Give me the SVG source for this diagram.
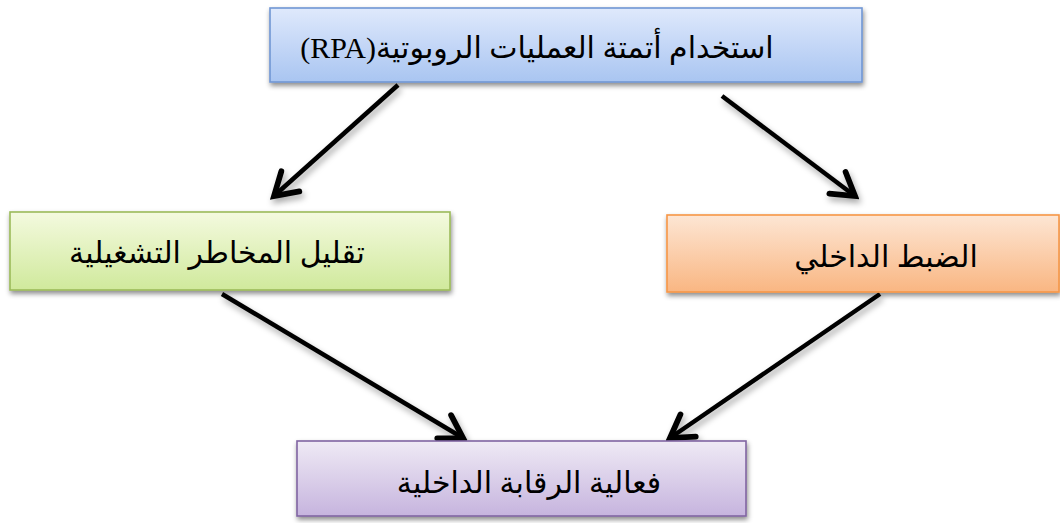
<svg xmlns="http://www.w3.org/2000/svg" width="1060" height="523" viewBox="0 0 1060 523">
<defs>
<linearGradient id="gBlue" x1="0" y1="0" x2="0" y2="1"><stop offset="0" stop-color="#dfe9fc"/><stop offset="1" stop-color="#a9c5f1"/></linearGradient>
<linearGradient id="gGreen" x1="0" y1="0" x2="0" y2="1"><stop offset="0" stop-color="#f4fadf"/><stop offset="1" stop-color="#d0e99c"/></linearGradient>
<linearGradient id="gOrange" x1="0" y1="0" x2="0" y2="1"><stop offset="0" stop-color="#fde6d4"/><stop offset="1" stop-color="#f9b682"/></linearGradient>
<linearGradient id="gPurple" x1="0" y1="0" x2="0" y2="1"><stop offset="0" stop-color="#efeaf5"/><stop offset="1" stop-color="#c6b4de"/></linearGradient>
<filter id="sh" x="-10%" y="-20%" width="120%" height="150%"><feDropShadow dx="1" dy="3" stdDeviation="2.5" flood-color="#000" flood-opacity="0.45"/></filter>
<filter id="ash" x="-20%" y="-20%" width="140%" height="140%"><feDropShadow dx="2" dy="4" stdDeviation="3" flood-color="#000" flood-opacity="0.35"/></filter>
<marker id="arr" viewBox="0 0 20 20" refX="17" refY="10" markerWidth="7.5" markerHeight="7.5" markerUnits="strokeWidth" orient="auto"><path d="M4,2 L17,10 L4,18" fill="none" stroke="#000" stroke-width="3.4" stroke-linecap="round" stroke-linejoin="miter"/></marker>
</defs>
<style>
.box{stroke-width:1.6}
.t{font-family:"Liberation Serif","DejaVu Sans",serif;font-size:30px;fill:#000;text-anchor:middle}
.c{stroke:#000;stroke-width:4.5;fill:none;marker-end:url(#arr)}
</style>
<g id="connectors" filter="url(#ash)">
<line class="c" x1="398" y1="85" x2="274" y2="196"/>
<line class="c" x1="722" y1="96" x2="855" y2="196"/>
<line class="c" x1="222" y1="294" x2="463" y2="438"/>
<line class="c" x1="880" y1="294" x2="670" y2="438"/>
</g>
<g id="n1">
<rect class="box" x="270" y="8" width="592" height="74" fill="url(#gBlue)" stroke="#7096d4" filter="url(#sh)"/>
<text class="t" x="537" y="58" direction="rtl">استخدام أتمتة العمليات الروبوتية(RPA)</text>
</g>
<g id="n2">
<rect class="box" x="10" y="212" width="440" height="78" fill="url(#gGreen)" stroke="#9bbb59" filter="url(#sh)"/>
<text class="t" x="217" y="263" direction="rtl">تقليل المخاطر التشغيلية</text>
</g>
<g id="n3">
<rect class="box" x="667" y="215" width="392" height="77" fill="url(#gOrange)" stroke="#f79646" filter="url(#sh)"/>
<text class="t" x="886" y="267" direction="rtl">الضبط الداخلي</text>
</g>
<g id="n4">
<rect class="box" x="297" y="441" width="449" height="75" fill="url(#gPurple)" stroke="#8064a2" filter="url(#sh)"/>
<text class="t" x="529" y="493" direction="rtl">فعالية الرقابة الداخلية</text>
</g>
</svg>
